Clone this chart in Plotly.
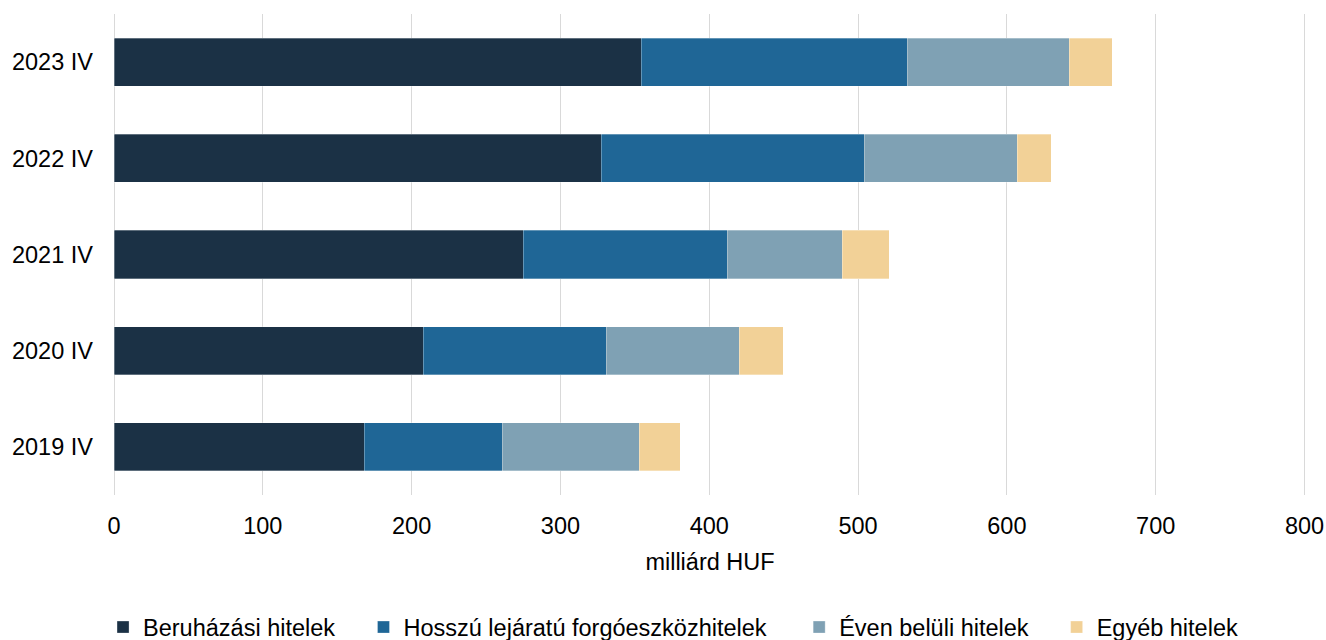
import plotly.graph_objects as go

periods = ['2019 IV', '2020 IV', '2021 IV', '2022 IV', '2023 IV']

beruhazasi = [168.1, 207.7, 275.0, 327.4, 354.3]
hosszu = [92.7, 123.1, 137.1, 176.8, 178.8]
even_beluli = [92.1, 89.4, 77.3, 102.9, 108.9]
egyeb = [27.6, 29.5, 31.6, 22.8, 28.9]

series = [
    ('Beruházási hitelek', beruhazasi, '#1B3145'),
    ('Hosszú lejáratú forgóeszközhitelek', hosszu, '#1F6696'),
    ('Éven belüli hitelek', even_beluli, '#7FA1B4'),
    ('Egyéb hitelek', egyeb, '#F2D197'),
]

# one legend per series so the entries can sit where the original has them
legend_x = [-0.0092, 0.2093, 0.5748, 0.7908]

fig = go.Figure()
for i, (name, vals, color) in enumerate(series):
    fig.add_trace(go.Bar(
        y=periods, x=vals, name=name, orientation='h',
        marker=dict(color=color, line=dict(color='rgba(255,255,255,0.6)', width=0.5)),
        width=0.5, showlegend=True,
        legend='legend' if i == 0 else 'legend%d' % (i + 1),
    ))

legend_style = dict(orientation='h', xanchor='left', y=-0.275, yanchor='middle',
                    font=dict(size=23.5), itemwidth=30, bgcolor='rgba(0,0,0,0)')

fig.update_layout(
    barmode='stack',
    width=1326, height=640,
    margin=dict(l=114, r=20, t=14, b=145, autoexpand=False),
    plot_bgcolor='white', paper_bgcolor='white',
    font=dict(family='Liberation Sans, Arial', size=23.5, color='#000000'),
    bargap=0.5,
    showlegend=True,
    legend=dict(x=legend_x[0], **legend_style),
    legend2=dict(x=legend_x[1], **legend_style),
    legend3=dict(x=legend_x[2], **legend_style),
    legend4=dict(x=legend_x[3], **legend_style),
    xaxis=dict(
        range=[0, 801], tickvals=[0, 100, 200, 300, 400, 500, 600, 700, 800],
        showgrid=True, gridcolor='#D9D9D9', gridwidth=1,
        zeroline=True, zerolinecolor='#D9D9D9', zerolinewidth=1,
        showline=False, ticklabelstandoff=14, automargin=False, ticklabeloverflow='allow',
        title=dict(text='milliárd HUF', font=dict(size=23.5), standoff=16),
    ),
    yaxis=dict(
        showgrid=False, showline=False, zeroline=False, ticklabelstandoff=20,
        automargin=False, categoryorder='array', categoryarray=periods,
    ),
)

# drop the browser's default 8px body margin so the figure fills the window
fig.write_html("out.html", config={'displayModeBar': False},
               post_script="document.body.style.margin='0';document.body.style.overflow='hidden';")
